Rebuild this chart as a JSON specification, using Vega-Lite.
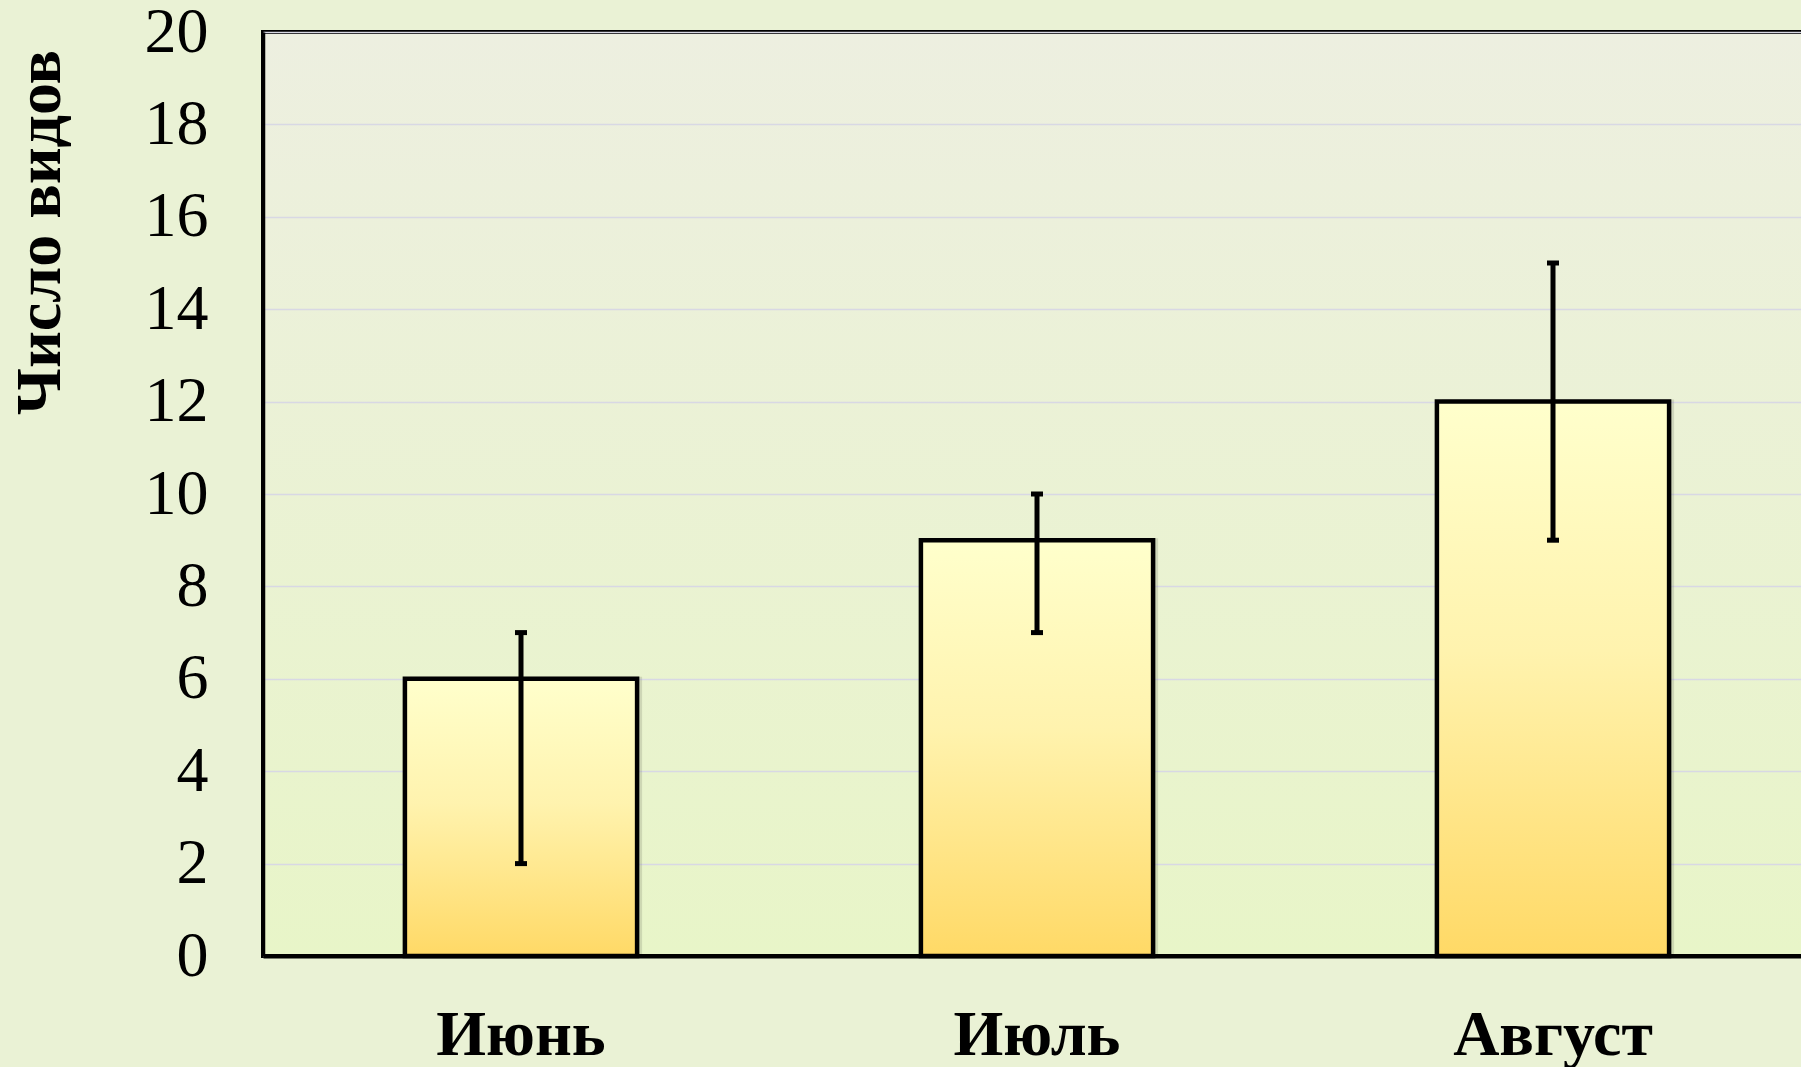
{
  "$schema": "https://vega.github.io/schema/vega-lite/v6.json",
  "autosize": {"type": "none"},
  "padding": {"left": 263, "top": 32, "right": -10, "bottom": 111},
  "width": 1548,
  "height": 924,
  "background": "#EAF2D5",
  "config": {
    "font": "Liberation Serif",
    "view": {
      "fill": {"gradient": "linear", "x1": 0, "y1": 0, "x2": 0, "y2": 1, "stops": [{"offset": 0, "color": "#EDEFE0"}, {"offset": 1, "color": "#E8F5C8"}]},
      "stroke": "#000000",
      "strokeWidth": 4
    }
  },
  "data": {
    "values": [
      {"month": "Июнь", "value": 6, "lo": 2, "hi": 7},
      {"month": "Июль", "value": 9, "lo": 7, "hi": 10},
      {"month": "Август", "value": 12, "lo": 9, "hi": 15}
    ]
  },
  "encoding": {
    "x": {
      "field": "month",
      "type": "nominal",
      "sort": null,
      "scale": {"paddingInner": 0.55, "paddingOuter": 0.275},
      "axis": {
        "title": null,
        "labelAngle": 0,
        "labelFont": "Liberation Serif",
        "labelFontSize": 64,
        "labelFontWeight": "bold",
        "labelColor": "#000000",
        "labelBaseline": "alphabetic",
        "labelPadding": 98,
        "labelLimit": 0,
        "ticks": false,
        "tickSize": 0,
        "domainColor": "#000000",
        "domainWidth": 4,
        "grid": false
      }
    }
  },
  "layer": [
    {
      "mark": {"type": "bar", "color": "#6E7060", "opacity": 0.22, "xOffset": 5, "yOffset": -2},
      "encoding": {
        "y": {"field": "value", "type": "quantitative", "title": "Число видов"}
      }
    },
    {
      "mark": {
        "type": "bar",
        "stroke": "#000000",
        "strokeWidth": 4.5,
        "color": {"gradient": "linear", "x1": 0, "y1": 0, "x2": 0, "y2": 1, "stops": [{"offset": 0, "color": "#FFFFCC"}, {"offset": 0.45, "color": "#FFF3AE"}, {"offset": 1, "color": "#FFD966"}]}
      },
      "encoding": {
        "y": {
          "field": "value",
          "type": "quantitative",
          "title": "Число видов",
          "scale": {"domain": [0, 20]},
          "axis": {
            "title": "Число видов",
            "titleFont": "Liberation Serif",
            "titleFontSize": 64,
            "titleFontWeight": "bold",
            "titleColor": "#000000",
            "titleAngle": -90,
            "titleAlign": "center",
            "titleBaseline": "alphabetic",
            "titleX": -204,
            "titleY": 200,
            "values": [0, 2, 4, 6, 8, 10, 12, 14, 16, 18, 20],
            "labelFont": "Liberation Serif",
            "labelFontSize": 64,
            "labelColor": "#000000",
            "labelPadding": 55,
            "ticks": false,
            "tickSize": 0,
            "domainColor": "#000000",
            "domainWidth": 3.5,
            "gridColor": "#D8D8E4",
            "gridWidth": 1.5
          }
        }
      }
    },
    {
      "mark": {
        "type": "errorbar",
        "color": "#000000",
        "opacity": 1,
        "rule": {"strokeWidth": 5, "opacity": 1},
        "ticks": {"size": 12, "thickness": 5, "color": "#000000", "opacity": 1}
      },
      "encoding": {
        "y": {"field": "lo", "type": "quantitative", "title": "Число видов"},
        "y2": {"field": "hi"}
      }
    }
  ]
}
